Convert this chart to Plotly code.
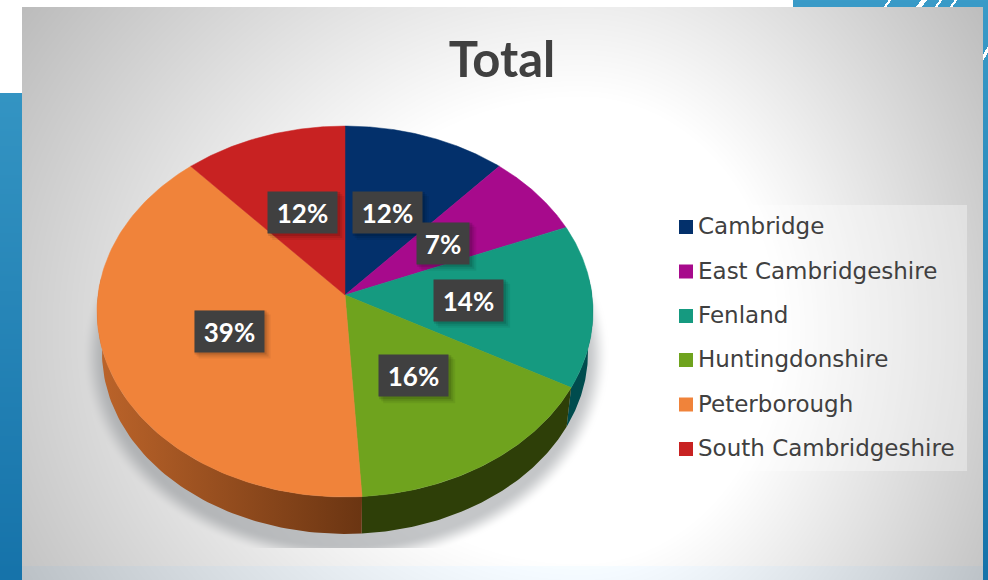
import base64, zlib, struct
import numpy as np
import plotly.graph_objects as go

# ---- data ----
categories = ["Cambridge", "East Cambridgeshire", "Fenland", "Huntingdonshire", "Peterborough", "South Cambridgeshire"]
shares = [11.6, 7.2, 14.2, 16.0, 39.4, 11.6]
top_colors = ["#03306B", "#A70A8C", "#159A80", "#6FA31E", "#F0833A", "#C82222"]
side_near = ["#021C40", "#5A0550", "#004C4E", "#2E3F08", "#6B3512", "#701010"]
side_far = ["#021C40", "#5A0550", "#004C4E", "#2E3F08", "#BC642A", "#701010"]
title_text = "Total"

W, H = 988, 580
APEX_X, APEX_Y = 345, 295
A, B, K = 247.0, 184.0, 0.089
DROP, SHRINK = 41.0, 0.98


def project(theta, r=1.0, lower=False):
    u, v = r * np.sin(theta), r * np.cos(theta)
    w = 1 + K * v
    x, y = A * u / w, B * v / w
    if lower:
        return APEX_X + x * SHRINK, APEX_Y - y * SHRINK + DROP
    return APEX_X + x, APEX_Y - y


def background():
    yy, xx = np.mgrid[0:H, 0:W].astype(float)
    img = np.full((H, W, 3), 255.0)
    # blue slide behind
    t = yy / H
    blue = np.stack([58 - 36 * t, 155 - 40 * t, 200 - 30 * t], -1)
    mask = ((xx < 22) & (yy >= 93)) | ((xx >= 793) & (yy < 8)) | (xx >= 983)
    img[mask] = blue[mask]
    for x0, wid in [(884, 1.5), (918, 3), (935, 1.5), (950, 1.5)]:
        d = xx - (x0 + (7 - yy) * 0.75)
        s = (np.abs(d) < wid) & (yy < 8)
        img[s] = 255
    s = (xx >= 983) & (np.abs(xx - (988 - (yy - 48) * 0.6)) < 2) & (yy < 60)
    img[s] = 255
    # grey panel
    ax = np.where(xx < 580, 600.0, 440.0)
    d = np.hypot((xx - 580) / ax, (yy - 330) / 520)
    g = 255 - 100 * np.clip(d - 0.45, 0, None)
    g = np.clip(g, 185, 255)
    panel = (xx >= 22) & (xx < 983) & (yy >= 7) & (yy < 566)
    for c in range(3):
        img[..., c][panel] = g[panel]
    bottom = (xx >= 22) & (xx < 983) & (yy >= 566)
    img[bottom] = np.stack([g[bottom] - 8, g[bottom] - 2, g[bottom] + 3], -1).clip(0, 255)
    # soft pie shadow, clipped at the chart edge
    e = np.hypot((xx - 345) / 264, (yy - 355) / 208)
    sh = np.clip((1.0 - e) / 0.09, 0, 1)
    sh = sh * sh * (3 - 2 * sh) * 0.42
    sh[yy >= 548] = 0
    for c in range(3):
        img[..., c] = img[..., c] * (1 - sh) + np.array([115, 120, 125])[c] * sh
    img = img.clip(0, 255).astype(np.uint8)
    raw = b"".join(b"\x00" + img[i].tobytes() for i in range(H))

    def chunk(tag, data):
        return struct.pack(">I", len(data)) + tag + data + struct.pack(">I", zlib.crc32(tag + data))

    png = (b"\x89PNG\r\n\x1a\n" + chunk(b"IHDR", struct.pack(">IIBBBBB", W, H, 8, 2, 0, 0, 0))
           + chunk(b"IDAT", zlib.compress(raw, 9)) + chunk(b"IEND", b""))
    return "data:image/png;base64," + base64.b64encode(png).decode()


edges = np.cumsum([0] + shares) / sum(shares) * 2 * np.pi
fig = go.Figure()

# extruded wall: only the part of the rim facing the viewer
for i, cat in enumerate(categories):
    lo, hi = max(edges[i], np.pi / 2 - 0.1), min(edges[i + 1], 3 * np.pi / 2 + 0.1)
    if hi <= lo:
        continue
    th = np.linspace(lo, hi, 80)
    xu, yu = project(th)
    xl, yl = project(th[::-1], lower=True)
    fig.add_trace(go.Scatter(
        x=np.r_[xu, xl, xu[0]], y=np.r_[yu, yl, yu[0]], mode="lines", fill="toself",
        line=dict(width=0), hoverinfo="skip", showlegend=False,
        fillgradient=dict(type="horizontal", colorscale=[[0, side_far[i]], [1, side_near[i]]])))

# top face
for i, cat in enumerate(categories):
    th = np.linspace(edges[i], edges[i + 1], 120)
    xs, ys = project(th)
    fig.add_trace(go.Scatter(x=np.r_[APEX_X, xs, APEX_X], y=np.r_[APEX_Y, ys, APEX_Y], mode="lines",
                             fill="toself", fillcolor=top_colors[i],
                             line=dict(color=top_colors[i], width=0.5),
                             name=cat, text=f"{cat}: {shares[i]:.0f}%", hoverinfo="text", showlegend=False))

# percentage labels
shapes = []
annotations = []
mids = (edges[:-1] + edges[1:]) / 2
for i, m in enumerate(mids):
    lx, ly = project(m, r=0.5)
    label = f"{shares[i]:.0f}%"
    hw = 34.5 if len(label) == 3 else 26
    for k, op in [(7, 0.06), (5, 0.08), (3, 0.12)]:
        shapes.append(dict(type="rect", xref="x", yref="y", x0=lx - hw + k - 3, x1=lx + hw + k,
                           y0=ly - 20.5 + k - 3, y1=ly + 20.5 + k, fillcolor=f"rgba(0,0,0,{op})",
                           line_width=0, layer="above"))
    annotations.append(dict(x=lx, y=ly, xref="x", yref="y", text=f"<b>{label}</b>", showarrow=False,
                            width=hw * 2, height=41, align="center", valign="middle",
                            bgcolor="#404040", borderpad=0,
                            font=dict(family="Lato", size=26, color="#FFFFFF")))

# legend
leg_y = [227, 271.5, 316, 360, 404.5, 449]
shapes.append(dict(type="rect", xref="x", yref="y", x0=667, x1=967, y0=205, y1=471,
                   fillcolor="rgba(255,255,255,0.35)", line_width=0, layer="below"))
fig.add_trace(go.Scatter(x=[686] * 6, y=leg_y, mode="markers", hoverinfo="skip", showlegend=False,
                         marker=dict(symbol="square", size=14, color=top_colors)))
fig.add_trace(go.Scatter(x=[698] * 6, y=[v + 1.5 for v in leg_y], mode="text", text=categories,
                         textposition="middle right", hoverinfo="skip", showlegend=False,
                         textfont=dict(family="DejaVu Sans", size=23, color="#404040")))

fig.update_layout(
    width=W, height=H, margin=dict(l=0, r=0, t=0, b=0), showlegend=False,
    paper_bgcolor="rgba(0,0,0,0)", plot_bgcolor="rgba(0,0,0,0)",
    xaxis=dict(range=[0, W], visible=False, fixedrange=True),
    yaxis=dict(range=[H, 0], visible=False, fixedrange=True),
    title=dict(text=f"<b>{title_text}</b>", x=502 / W, y=1 - 60 / H, xanchor="center", yanchor="middle",
               font=dict(family="Lato", size=49, color="#404040")),
    images=[dict(source=background(), xref="paper", yref="paper", x=0, y=1, sizex=1, sizey=1,
                 xanchor="left", yanchor="top", sizing="stretch", layer="below")],
    shapes=shapes, annotations=annotations,
)
fig.write_html("out.html", post_script="document.body.style.margin='0';", config={"displayModeBar": False})
